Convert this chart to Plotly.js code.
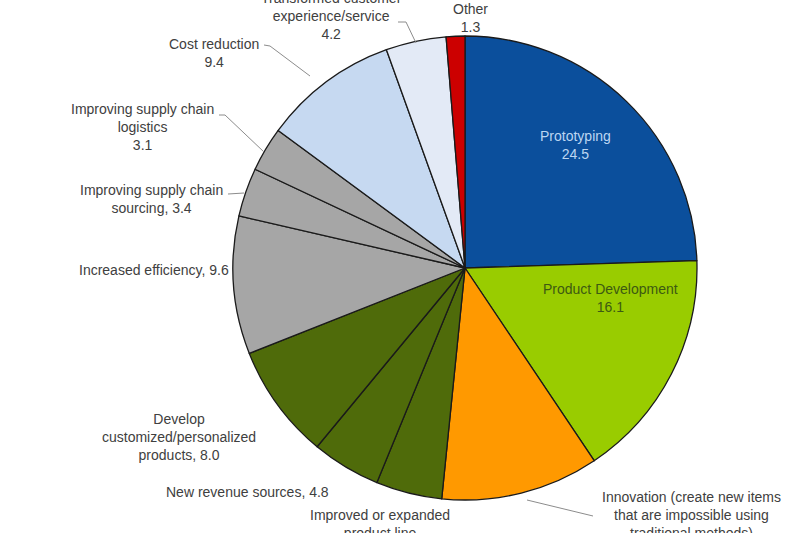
<!DOCTYPE html>
<html>
<head>
<meta charset="utf-8">
<script src="https://cdn.plot.ly/plotly-3.0.1.min.js"></script>
<style>html,body{margin:0;padding:0;background:#fff;}#chart{width:800px;height:533px;}</style>
</head>
<body>
<div id="chart"></div>
<script>
// Data
const categories = [
  "Prototyping",
  "Product Development",
  "Innovation (create new items that are impossible using traditional methods)",
  "Improved or expanded product line",
  "New revenue sources",
  "Develop customized/personalized products",
  "Increased efficiency",
  "Improving supply chain sourcing",
  "Improving supply chain logistics",
  "Cost reduction",
  "Transformed customer experience/service",
  "Other"
];
const values = [24.5, 16.1, 11.0, 4.6, 4.8, 8.0, 9.6, 3.4, 3.1, 9.4, 4.2, 1.3];
const labelTexts = [
  "Prototyping<br>24.5",
  "Product Development<br>16.1",
  "Innovation (create new items<br>that are impossible using<br>traditional methods)<br>11.0",
  "Improved or expanded<br>product line<br>4.6",
  "New revenue sources, 4.8",
  "Develop<br>customized/personalized<br>products, 8.0",
  "Increased efficiency, 9.6",
  "Improving supply chain<br>sourcing, 3.4",
  "Improving supply chain<br>logistics<br>3.1",
  "Cost reduction<br>9.4",
  "Transformed customer<br>experience/service<br>4.2",
  "Other<br>1.3"
];
const sliceColors = ["#0b4f9c", "#99cc00", "#ff9900", "#4f6b0a", "#4f6b0a", "#4f6b0a",
                     "#a6a6a6", "#a6a6a6", "#a6a6a6", "#c6d9f1", "#e3eaf6", "#cc0000"];

const W = 800, H = 533;
const px = x => x / W;
const py = y => 1 - y / H;

// label placement (pixel centers)
const labelPos = [
  [575, 145, "center", "#bcd6f2"],
  [610, 298, "center", "#3d5a12"],
  [691, 524, "center", "#404040"],
  [380, 533, "center", "#404040"],
  [247, 492, "center", "#404040"],
  [179, 437, "center", "#404040"],
  [231, 270, "right", "#404040"],
  [151, 199, "center", "#404040"],
  [142, 127, "center", "#404040"],
  [214, 53, "center", "#404040"],
  [331, 16, "center", "#404040"],
  [470, 18, "center", "#404040"]
];

const annotations = labelTexts.map((t, i) => ({
  text: t,
  xref: "paper", yref: "paper",
  x: px(labelPos[i][0]), y: py(labelPos[i][1]),
  xanchor: labelPos[i][2], yanchor: "middle",
  align: "center",
  showarrow: false,
  font: {family: "Liberation Sans, Arial, sans-serif", size: 14, color: labelPos[i][3]}
}));

// leader lines
const leaders = [
  [[398, 22], [406, 22], [416, 43]],
  [[264, 45], [270, 46], [310, 76]],
  [[219, 115], [225, 115], [264, 152]],
  [[228, 194], [244, 193]],
  [[527, 500], [593, 516]]
];
const shapes = leaders.map(pts => ({
  type: "path",
  xref: "paper", yref: "paper",
  path: pts.map((p, k) => (k ? "L" : "M") + px(p[0]) + "," + py(p[1])).join(" "),
  line: {color: "#8c8c8c", width: 1}
}));

const cx = 465, cy = 268, r = 232;
const trace = {
  type: "pie",
  labels: categories,
  values: values,
  sort: false,
  direction: "clockwise",
  rotation: 0,
  textinfo: "none",
  hoverinfo: "label+value",
  marker: {colors: sliceColors, line: {color: "#1a1a1a", width: 1.3}},
  domain: {x: [px(cx - r), px(cx + r)], y: [py(cy + r), py(cy - r)]},
  showlegend: false
};

const layout = {
  width: W, height: H,
  margin: {l: 0, r: 0, t: 0, b: 0},
  paper_bgcolor: "#ffffff",
  showlegend: false,
  annotations: annotations,
  shapes: shapes
};

Plotly.newPlot("chart", [trace], layout, {displayModeBar: false, staticPlot: true});
</script>
</body>
</html>
